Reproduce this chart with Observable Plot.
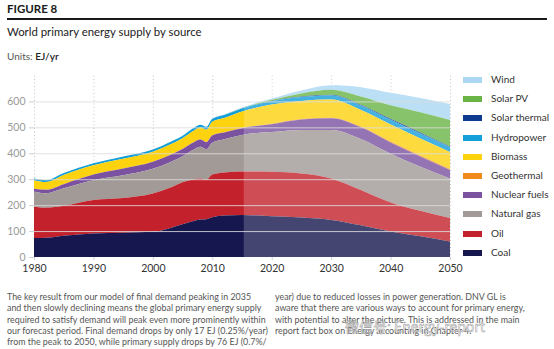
<!DOCTYPE html>
<html>
<head>
<meta charset="utf-8">
<script src="https://cdn.jsdelivr.net/npm/d3@7"></script>
<script src="https://cdn.jsdelivr.net/npm/@observablehq/plot@0.6"></script>
<style>
  html, body { margin: 0; padding: 0; background: #fff; }
  #page { position: relative; width: 554px; height: 349px; overflow: hidden; font-family: Lato, "Open Sans", sans-serif; }
  .abs { position: absolute; white-space: nowrap; }
  #fig { left: 7px; top: 2px; font-size: 11.5px; font-weight: 700; color: #1a1a1a; }
  #rule { left: 7px; top: 18px; width: 540px; height: 2px; background: #1a1a1a; }
  #title { left: 7px; top: 25px; font-size: 11.4px; color: #222; }
  #units { left: 7px; top: 50px; font-size: 10px; color: #555; }
  #units b { color: #222; font-weight: 600; }
  #chart { left: 0; top: 65px; }
  .leg { position: absolute; left: 463px; height: 12px; font-size: 10px; color: #333; white-space: nowrap; }
  .leg span.sw { position: absolute; left: 0; top: 3px; width: 19px; height: 6px; }
  .leg span.lb { position: absolute; left: 28px; top: -1px; white-space: nowrap; }
  .para { font-size: 8.9px; color: #555; line-height: 11.3px; }
  #wm { left: 345px; top: 316px; font-size: 14px; color: #fff; -webkit-text-stroke: 0.5px #999; font-family: "Noto Sans CJK SC", sans-serif; }
</style>
</head>
<body>
<div id="page">
  <div class="abs" id="fig">FIGURE 8</div>
  <div class="abs" id="rule"></div>
  <div class="abs" id="title">World primary energy supply by source</div>
  <div class="abs" id="units">Units: <b>EJ/yr</b></div>
  <div class="abs" id="chart"></div>
  <div id="legend"></div>
  <div class="abs para" style="left:7px; top:291px;">The key result from our model of final demand peaking in 2035<br>and then slowly declining means the global primary energy supply<br>required to satisfy demand will peak even more prominently within<br>our forecast period. Final demand drops by only 17 EJ (0.25%/year)<br>from the peak to 2050, while primary supply drops by 76 EJ (0.7%/</div>
  <div class="abs para" style="left:275px; top:291px;">year) due to reduced losses in power generation. DNV GL is<br>aware that there are various ways to account for primary energy,<br>with potential to alter the picture. This is addressed in the main<br>report fact box on Energy accounting in Chapter 4.</div>
  <div class="abs" id="wm">微信号: Energy-report</div>
</div>
<script>
// ---- data (EJ/yr) ----
const years = [1980, 1982, 1985, 1990, 1995, 2000, 2003, 2005, 2007, 2008, 2009, 2010, 2012, 2015, 2020, 2025, 2030, 2035, 2040, 2045, 2050];
const coal         = [73, 74, 82, 91, 94, 97, 112, 126, 140, 145, 146, 153, 160, 162, 157, 152, 143, 122, 98, 80, 60];
const oil          = [122, 116, 116, 129, 134, 148, 156, 162, 160, 158, 152, 165, 166, 168, 172, 170, 160, 136, 112, 98, 90];
const naturalGas   = [58, 56, 67, 76, 87, 95, 98, 101, 116, 122, 118, 123, 128, 141, 153, 168, 187, 197, 188, 170, 153];
const nuclear      = [10, 13, 16, 22, 26, 27, 28, 28, 28, 28, 27, 28, 26, 26, 30, 40, 45, 45, 44, 40, 33];
const geothermal   = [0.3, 0.3, 0.4, 0.5, 0.6, 0.7, 0.8, 0.8, 0.9, 1, 1, 1, 1, 1, 2, 2, 2, 3, 3, 3, 3];
const biomass      = [32, 30, 35, 35, 37, 38, 40, 40, 44, 45, 47, 52, 55, 63, 74, 70, 70, 64, 66, 66, 66];
const hydropower   = [7, 7, 8, 8, 9, 9, 10, 10, 11, 11, 11, 11, 12, 12, 13, 15, 16, 17, 18, 19, 18];
const solarThermal = [0, 0, 0, 0, 0, 0, 0, 0, 0, 0, 0, 0, 0, 0, 1, 2, 3, 3, 4, 4, 3];
const solarPV      = [0, 0, 0, 0, 0, 0, 0, 0, 0, 0, 0, 0, 0, 1, 4, 12, 19, 32, 52, 78, 102];
const wind         = [0, 0, 0, 0, 0, 0, 0, 0, 0, 0, 0, 1, 1.5, 2.5, 5, 11, 17, 36, 48, 55, 62];

const sources = ["Wind", "Solar PV", "Solar thermal", "Hydropower", "Biomass", "Geothermal", "Nuclear fuels", "Natural gas", "Oil", "Coal"];
const colors  = ["#aad7f2", "#6ab445", "#0f3b8f", "#149fdb", "#fdd20f", "#f08a1c", "#7b52a0", "#a19a96", "#c3222c", "#17174f"];
const seriesValues = [wind, solarPV, solarThermal, hydropower, biomass, geothermal, nuclear, naturalGas, oil, coal];

const xTicks = [1980, 1990, 2000, 2010, 2020, 2030, 2040, 2050];
const yTicks = [0, 100, 200, 300, 400, 500, 600];
const forecastStart = 2015.3;
const lastYear = 2050;

// long table for Plot
const table = [];
sources.forEach((s, i) => years.forEach((y, j) => table.push({source: s, year: y, value: seriesValues[i][j]})));
const stackOrder = sources.slice().reverse(); // Coal at bottom

const chart = Plot.plot({
  width: 462,
  height: 217,
  marginLeft: 34,
  marginRight: 12,
  marginTop: 10.5,
  marginBottom: 25,
  style: {fontFamily: "Lato, 'Open Sans', sans-serif", background: "transparent", overflow: "visible"},
  x: {domain: [1980, 2050], label: null},
  y: {domain: [0, 700], label: null},
  color: {domain: sources, range: colors},
  marks: [
    Plot.ruleX(xTicks, {stroke: "#c4c4c4", strokeDasharray: "1,2.5", strokeWidth: 1}),
    Plot.areaY(table, {x: "year", y: "value", fill: "source", z: "source", order: stackOrder, curve: "monotone-x"}),
    Plot.rect([{x1: forecastStart, x2: lastYear}], {x1: "x1", x2: "x2", y1: 0, y2: 700, fill: "#ffffff", fillOpacity: 0.2}),
    Plot.ruleY(yTicks.filter(d => d > 0), {stroke: "#dcdcdc", strokeOpacity: 0.85, strokeWidth: 1}),
    Plot.axisY({ticks: yTicks, label: null, tickSize: 5, tickPadding: 4, stroke: "#cfcfcf", fill: "#9a9a9a", fontSize: 10.5}),
    Plot.axisX({ticks: xTicks, label: null, tickFormat: d => String(d), tickSize: 3, tickPadding: 4, stroke: "#cfcfcf", fill: "#333", fontSize: 10.5})
  ]
});
document.getElementById("chart").appendChild(chart);

// legend (top to bottom, as in the reference)
const leg = document.getElementById("legend");
sources.forEach((s, i) => {
  const d = document.createElement("div");
  d.className = "leg";
  d.style.top = (74 + i * 19.2) + "px";
  d.innerHTML = `<span class="sw" style="background:${colors[i]}"></span><span class="lb">${s}</span>`;
  leg.appendChild(d);
});
</script>
</body>
</html>
